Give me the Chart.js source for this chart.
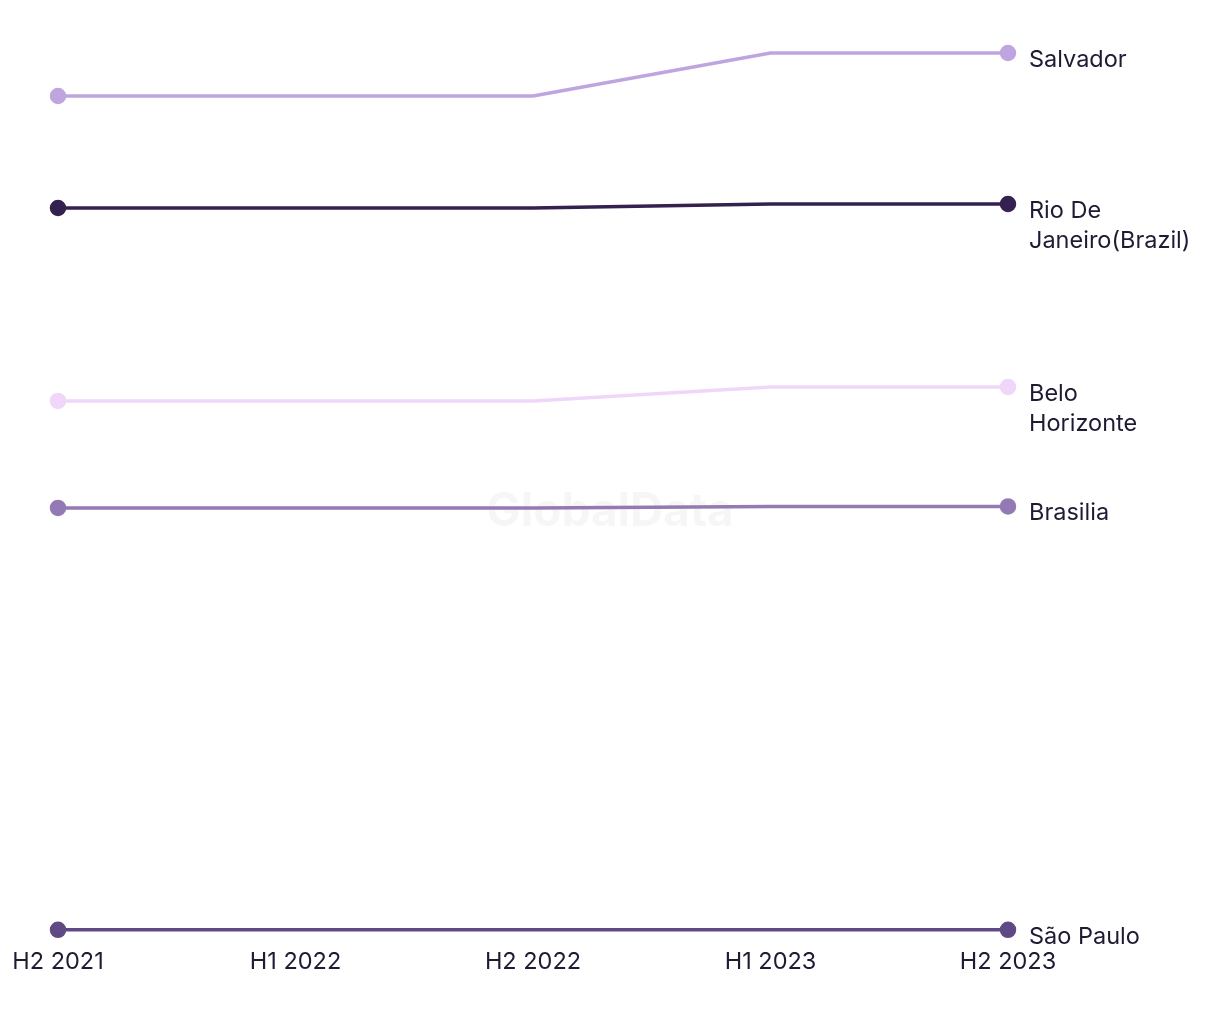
<!DOCTYPE html>
<html>
<head>
<meta charset="utf-8">
<script src="https://cdn.jsdelivr.net/npm/chart.js@4"></script>
<style>
html,body{margin:0;padding:0;background:#fff;}
#wrap{width:1220px;height:1020px;position:relative;}
</style>
</head>
<body>
<div id="wrap"><canvas id="c" width="1220" height="1020"></canvas></div>
<script>
const periods = ["H2 2021", "H1 2022", "H2 2022", "H1 2023", "H2 2023"];
const seriesNames = ["Salvador", "Rio De Janeiro(Brazil)", "Belo Horizonte", "Brasilia", "São Paulo"];
const seriesLabelLines = [["Salvador"], ["Rio De", "Janeiro(Brazil)"], ["Belo", "Horizonte"], ["Brasilia"], ["São Paulo"]];
const salvador = [83.4, 83.4, 83.4, 87.7, 87.7];
const rioDeJaneiro = [72.2, 72.2, 72.2, 72.6, 72.6];
const beloHorizonte = [52.9, 52.9, 52.9, 54.3, 54.3];
const brasilia = [42.2, 42.2, 42.2, 42.35, 42.35];
const saoPaulo = [0, 0, 0, 0, 0];
const seriesColors = ["#BFA5E0", "#35214F", "#F0D7FA", "#947AB4", "#5F4A85"];

const seriesValues = [salvador, rioDeJaneiro, beloHorizonte, brasilia, saoPaulo];
const FONT = "Inter, 'Open Sans', 'Liberation Sans', sans-serif";

const endPointRadius = (n) => periods.map((_, i) => (i === 0 || i === n - 1) ? 6.5 : 0);

const datasets = seriesValues.map((vals, i) => ({
  label: seriesNames[i],
  data: vals,
  borderColor: seriesColors[i],
  backgroundColor: seriesColors[i],
  pointBackgroundColor: seriesColors[i],
  pointBorderColor: seriesColors[i],
  borderWidth: 3.5,
  pointRadius: endPointRadius(periods.length),
  pointHoverRadius: endPointRadius(periods.length),
  tension: 0,
  fill: false,
  clip: false
}));

const endLabels = {
  id: 'endLabels',
  afterDatasetsDraw(chart) {
    const ctx = chart.ctx;
    ctx.save();
    ctx.font = "23.5px " + FONT;
    ctx.fillStyle = "#1E1B33";
    ctx.textAlign = "left";
    ctx.textBaseline = "middle";
    chart.data.datasets.forEach((ds, i) => {
      const meta = chart.getDatasetMeta(i);
      const pt = meta.data[meta.data.length - 1];
      const lines = seriesLabelLines[i];
      lines.forEach((ln, j) => {
        ctx.fillText(ln, pt.x + 21, pt.y + 7 + j * 30);
      });
    });
    ctx.restore();
  }
};

const watermark = {
  id: 'watermark',
  beforeDatasetsDraw(chart) {
    const ctx = chart.ctx;
    ctx.save();
    ctx.font = "bold 46px " + FONT;
    ctx.fillStyle = "rgba(0,0,0,0.035)";
    ctx.textAlign = "center";
    ctx.textBaseline = "middle";
    ctx.fillText("GlobalData", 610, 512);
    ctx.restore();
  }
};

new Chart(document.getElementById('c'), {
  type: 'line',
  data: { labels: periods, datasets },
  options: {
    responsive: false,
    animation: false,
    layout: { padding: { left: 58, right: 212, top: 30, bottom: 26 } },
    plugins: { legend: { display: false }, tooltip: { enabled: false } },
    scales: {
      x: {
        offset: false,
        grid: { display: false, drawTicks: false },
        border: { display: false },
        ticks: { color: "#1E1B33", font: { family: FONT, size: 23.5 }, padding: 18, maxRotation: 0, autoSkip: false },
        afterFit(scale) { scale.paddingLeft = 0; scale.paddingRight = 0; }
      },
      y: {
        display: false,
        min: 0,
        max: 90
      }
    }
  },
  plugins: [watermark, endLabels]
});
</script>
</body>
</html>
